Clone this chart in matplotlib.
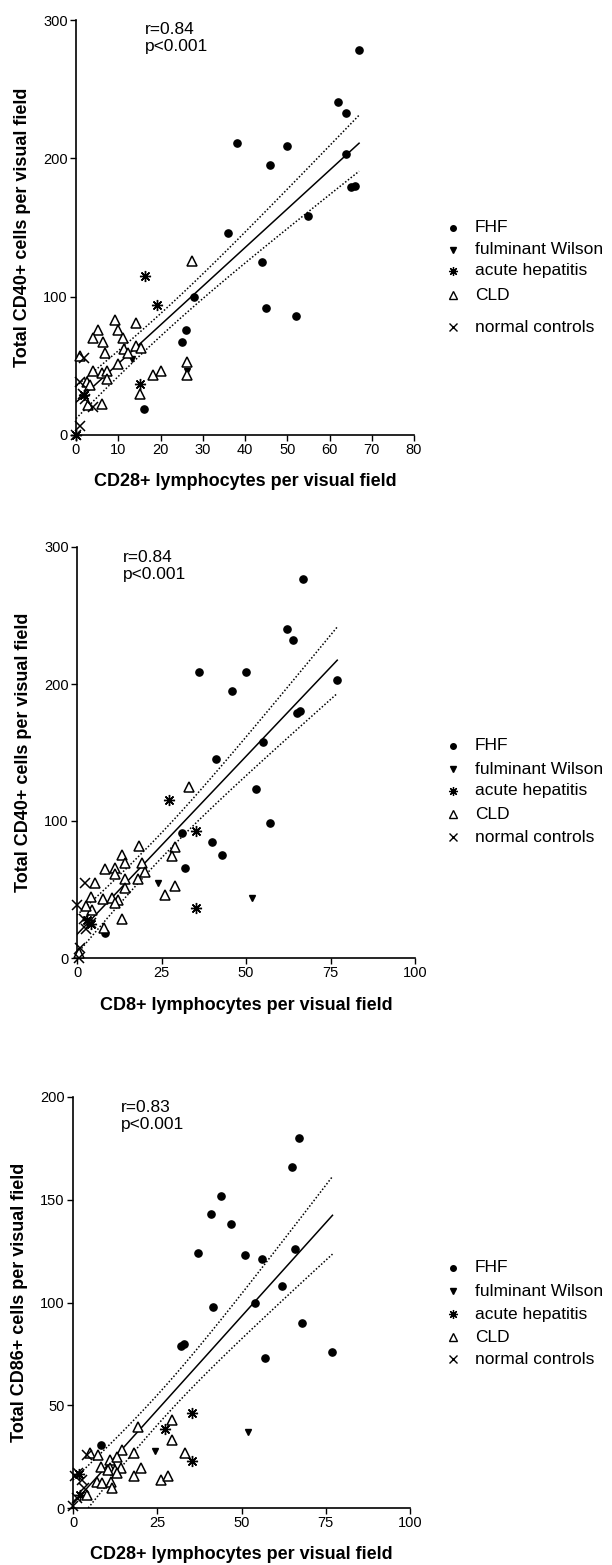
import numpy as np
import matplotlib
matplotlib.use("Agg")
import matplotlib.pyplot as plt
from matplotlib.lines import Line2D

plt.rcParams['font.family'] = ['Liberation Sans', 'DejaVu Sans']

groups = ["FHF", "fulminant Wilson", "acute hepatitis", "CLD", "normal controls"]

# ---------------- Panel 1: CD28 vs CD40 ----------------
p1_fhf_x = [67, 62, 64, 64, 65, 66, 38, 46, 50, 55, 36, 44, 28, 45, 52, 26, 25, 16]
p1_fhf_y = [278, 241, 233, 203, 179, 180, 211, 195, 209, 158, 146, 125, 100, 92, 86, 76, 67, 19]
p1_wil_x = [13.3, 26.2]
p1_wil_y = [55, 46]
p1_acu_x = [16.3, 19.2, 15.1, 1.8, 0]
p1_acu_y = [115, 94, 37, 29, 0]
p1_cld_x = [27.4, 9.2, 14.2, 5.2, 9.9, 4, 6.4, 11.1, 6.9, 11.3, 14.2, 15.4, 12.3, 0.9, 9.9,
            4, 6.1, 7.3, 7.3, 2.6, 3.3, 2.8, 6.1, 18.2, 20.1, 26.2, 26.2, 15.1]
p1_cld_y = [126, 83, 81, 76, 76, 70, 67, 70, 59.5, 62, 64, 63, 59.5, 57, 51.5,
            46, 45, 46, 40.7, 38.5, 36, 22, 22.5, 43.6, 46.5, 53, 43.6, 30]
p1_nor_x = [1.8, 1, 1.6, 2.2, 4, 1, 0]
p1_nor_y = [56, 38, 30, 26, 20, 6.5, 0]

# ---------------- Panel 2: CD8 vs CD40 ----------------
p2_fhf_x = [67, 62, 64, 36, 50, 46, 77, 65, 66, 55, 41, 53, 57, 31, 40, 43, 32, 8.3]
p2_fhf_y = [277, 240, 232, 209, 209, 195, 203, 179, 180, 158, 145, 123, 98.5, 91, 85, 75, 66, 18]
p2_wil_x = [24, 51.8]
p2_wil_y = [54.5, 44]
p2_acu_x = [27.2, 35.2, 35.2, 3, 4]
p2_acu_y = [115, 93, 36.5, 28, 25]
p2_cld_x = [33, 18.3, 29, 28.1, 13.3, 14.2, 8.3, 11.2, 11.2, 19.2, 20.1, 18, 14.2, 14.2, 5.3,
            29, 26, 4.1, 7.7, 10.4, 12.1, 11.2, 4.4, 13.3, 8, 2.7, 0.5]
p2_cld_y = [125, 82, 81, 74.5, 75, 69, 65, 65.5, 61, 69, 63, 58, 58, 51, 55,
            52.5, 46, 44.5, 43, 44, 42, 40, 35, 28.5, 22, 38, 4]
p2_nor_x = [2.4, 0, 2.1, 4.1, 2.7, 0.9, 0.6]
p2_nor_y = [54.5, 39, 28.5, 25.5, 21, 7, 0]

# ---------------- Panel 3: CD28 vs CD86 ----------------
p3_fhf_x = [67, 65, 44, 41, 47, 66, 37, 51, 56, 62, 54, 41.5, 68, 77, 32, 33, 57, 8.2]
p3_fhf_y = [180, 166, 152, 143, 138, 126, 124, 123, 121, 108, 100, 98, 90, 76, 79, 80, 73, 30.5]
p3_wil_x = [24.4, 52]
p3_wil_y = [27.6, 37]
p3_acu_x = [35.3, 27.4, 35.3, 1.8, 2]
p3_acu_y = [46, 38.5, 23, 16.7, 6.4]
p3_cld_x = [29.4, 19.4, 29.4, 33.2, 18.2, 14.4, 20.3, 18.2, 26.2, 28.2, 5, 7.4, 8.2, 10.9, 10.9,
            13.2, 14.1, 12.6, 10.3, 13.2, 7, 8.5, 11.2, 11.5, 4.1]
p3_cld_y = [43, 39.5, 33, 27, 27, 28, 19.7, 15.8, 13.8, 15.8, 27, 26, 20, 23.6, 19.7,
            24.6, 19.7, 18.7, 18.7, 17.2, 12.8, 12.3, 12.8, 9.8, 6.4]
p3_nor_x = [4.1, 0.6, 2.6, 3.2, 1.2, 1.5, 0]
p3_nor_y = [26, 15.8, 13.8, 9.8, 4.9, 17, 1]

stats_text = ["r=0.84\np<0.001", "r=0.84\np<0.001", "r=0.83\np<0.001"]
xlabels = ["CD28+ lymphocytes per visual field", "CD8+ lymphocytes per visual field",
           "CD28+ lymphocytes per visual field"]
ylabels = ["Total CD40+ cells per visual field", "Total CD40+ cells per visual field",
           "Total CD86+ cells per visual field"]
xticks = [[0, 10, 20, 30, 40, 50, 60, 70, 80], [0, 25, 50, 75, 100], [0, 25, 50, 75, 100]]
yticks = [[0, 100, 200, 300], [0, 100, 200, 300], [0, 50, 100, 150, 200]]

panels = [
    (p1_fhf_x, p1_fhf_y, p1_wil_x, p1_wil_y, p1_acu_x, p1_acu_y, p1_cld_x, p1_cld_y, p1_nor_x, p1_nor_y),
    (p2_fhf_x, p2_fhf_y, p2_wil_x, p2_wil_y, p2_acu_x, p2_acu_y, p2_cld_x, p2_cld_y, p2_nor_x, p2_nor_y),
    (p3_fhf_x, p3_fhf_y, p3_wil_x, p3_wil_y, p3_acu_x, p3_acu_y, p3_cld_x, p3_cld_y, p3_nor_x, p3_nor_y),
]

W, H = 612, 1565
fig = plt.figure(figsize=(W / 100, H / 100), dpi=100)

# axes boxes in pixels: left, right, top, bottom
boxes = [(76, 414, 20, 435), (77, 415, 547, 958), (73, 410, 1097, 1508)]
text_pos = [(0.204, 0.995), (0.136, 0.993), (0.142, 0.993)]
legend_y = [[228, 250, 271, 295, 327], [746, 769, 791, 814, 837], [1268, 1291, 1314, 1337, 1359]]

styles = [
    dict(marker='o', markersize=5.2, markerfacecolor='black', markeredgecolor='black', linestyle='none'),
    dict(marker='v', markersize=4.5, markerfacecolor='black', markeredgecolor='black', linestyle='none'),
    dict(marker=(8, 2, 0), markersize=8, markeredgecolor='black', markeredgewidth=1.0, linestyle='none'),
    dict(marker='^', markersize=7.8, markerfacecolor='white', markeredgecolor='black', markeredgewidth=1.1, linestyle='none'),
    dict(marker='x', markersize=6.5, markeredgecolor='black', markeredgewidth=1.1, linestyle='none'),
]
leg_styles = [
    dict(marker='o', markersize=4, markerfacecolor='black', markeredgecolor='black', linestyle='none'),
    dict(marker='v', markersize=4, markerfacecolor='black', markeredgecolor='black', linestyle='none'),
    dict(marker=(8, 2, 0), markersize=6.5, markeredgecolor='black', markeredgewidth=0.9, linestyle='none'),
    dict(marker='^', markersize=5.5, markerfacecolor='white', markeredgecolor='black', markeredgewidth=1.0, linestyle='none'),
    dict(marker='x', markersize=5.5, markeredgecolor='black', markeredgewidth=1.0, linestyle='none'),
]
xlabel_pads = [11, 12, 11]

for i, data in enumerate(panels):
    l, r, t, b = boxes[i]
    ax = fig.add_axes([l / W, 1 - b / H, (r - l) / W, (b - t) / H])
    xs_all, ys_all = [], []
    for g in range(5):
        gx, gy = data[2 * g], data[2 * g + 1]
        xs_all += list(gx)
        ys_all += list(gy)
        ax.plot(gx, gy, clip_on=False, zorder=3, **styles[g])
    xa = np.array(xs_all, float)
    ya = np.array(ys_all, float)
    n = len(xa)
    slope, intercept = np.polyfit(xa, ya, 1)
    xg = np.linspace(0, xa.max(), 100)
    yfit = intercept + slope * xg
    resid = ya - (intercept + slope * xa)
    s = np.sqrt(np.sum(resid ** 2) / (n - 2))
    sxx = np.sum((xa - xa.mean()) ** 2)
    se = s * np.sqrt(1 / n + (xg - xa.mean()) ** 2 / sxx)
    tval = 1.98
    ax.plot(xg, yfit, color='black', lw=1.1, zorder=2)
    ax.plot(xg, yfit + tval * se, color='black', lw=1.1, ls=(0, (1, 1.3)), zorder=2)
    ax.plot(xg, yfit - tval * se, color='black', lw=1.1, ls=(0, (1, 1.3)), zorder=2)

    ax.set_xlim(xticks[i][0], xticks[i][-1])
    ax.set_ylim(yticks[i][0], yticks[i][-1])
    ax.set_xticks(xticks[i])
    ax.set_yticks(yticks[i])
    for sp in ['top', 'right']:
        ax.spines[sp].set_visible(False)
    for sp in ['left', 'bottom']:
        ax.spines[sp].set_linewidth(1.2)
    ax.tick_params(direction='out', length=4, width=1, labelsize=10.5, pad=2)
    ax.set_xlabel(xlabels[i], fontsize=13, fontweight='bold', labelpad=xlabel_pads[i])
    ax.set_ylabel(ylabels[i], fontsize=13, fontweight='bold', labelpad=9)
    ax.text(text_pos[i][0], text_pos[i][1], stats_text[i], transform=ax.transAxes,
            fontsize=12.5, va='top', ha='left', linespacing=1.15)

    for g in range(5):
        yy = 1 - legend_y[i][g] / H
        fig.add_artist(Line2D([453 / W], [yy], transform=fig.transFigure, **leg_styles[g]))
        fig.text(475 / W, yy, groups[g], fontsize=12.5, va='center', ha='left')

fig.savefig("out.png", dpi=100)
